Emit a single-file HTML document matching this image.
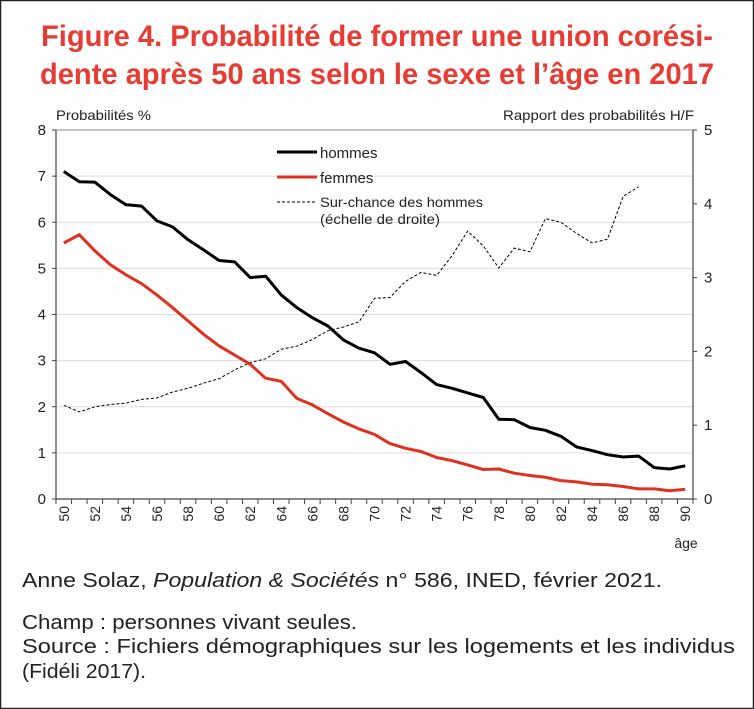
<!DOCTYPE html>
<html><head><meta charset="utf-8"><style>
html,body{margin:0;padding:0;background:#fff;}
svg{display:block;}
text{font-family:"Liberation Sans",sans-serif;}
</style></head><body>
<svg id="chart" width="754" height="709" viewBox="0 0 754 709">
<rect x="0.5" y="0.5" width="753" height="708" fill="#fff" stroke="#222" stroke-width="1.5"/>
<text x="377" y="46" text-anchor="middle" font-size="30" font-weight="bold" fill="#e63c33" textLength="672" lengthAdjust="spacingAndGlyphs">Figure 4. Probabilité de former une union corési-</text>
<text x="377" y="84" text-anchor="middle" font-size="30" font-weight="bold" fill="#e63c33" textLength="674" lengthAdjust="spacingAndGlyphs">dente après 50 ans selon le sexe et l’âge en 2017</text>
<text x="56" y="120" font-size="14" fill="#222" textLength="95" lengthAdjust="spacingAndGlyphs">Probabilités %</text>
<text x="694" y="120" text-anchor="end" font-size="14" fill="#222" textLength="191" lengthAdjust="spacingAndGlyphs">Rapport des probabilités H/F</text>
<g id="grid"></g>
<g id="axes"></g>
<g id="series"></g>
<g>
<line x1="277" y1="152" x2="317" y2="152" stroke="#000" stroke-width="3"/>
<text x="320" y="158" font-size="15" fill="#222">hommes</text>
<line x1="277" y1="177" x2="317" y2="177" stroke="#e0301e" stroke-width="3"/>
<text x="320" y="183" font-size="15" fill="#222">femmes</text>
<line x1="277" y1="202" x2="317" y2="202" stroke="#000" stroke-width="1" stroke-dasharray="3,2"/>
<text x="320" y="207" font-size="14" fill="#222" textLength="163" lengthAdjust="spacingAndGlyphs">Sur-chance des hommes</text>
<text x="320" y="224" font-size="14" fill="#222" textLength="120" lengthAdjust="spacingAndGlyphs">(échelle de droite)</text>
</g>
<text x="686" y="548" text-anchor="middle" font-size="14" fill="#222">âge</text>
<text x="22" y="587" font-size="20" fill="#222" textLength="640" lengthAdjust="spacingAndGlyphs">Anne Solaz, <tspan font-style="italic">Population &amp; Sociétés</tspan> n° 586, INED, février 2021.</text>
<text x="22" y="629" font-size="20" fill="#222" textLength="335" lengthAdjust="spacingAndGlyphs">Champ : personnes vivant seules.</text>
<text x="22" y="653" font-size="20" fill="#222" textLength="713" lengthAdjust="spacingAndGlyphs">Source : Fichiers démographiques sur les logements et les individus</text>
<text x="22" y="678" font-size="20" fill="#222" textLength="124" lengthAdjust="spacingAndGlyphs">(Fidéli 2017).</text>
</svg>
<script>
const ages = [50,51,52,53,54,55,56,57,58,59,60,61,62,63,64,65,66,67,68,69,70,71,72,73,74,75,76,77,78,79,80,81,82,83,84,85,86,87,88,89,90];
const hommes = [7.1,6.88,6.87,6.6,6.38,6.35,6.03,5.9,5.62,5.4,5.17,5.14,4.8,4.83,4.42,4.15,3.93,3.75,3.45,3.27,3.17,2.92,2.98,2.74,2.48,2.4,2.3,2.2,1.73,1.72,1.55,1.49,1.36,1.13,1.05,0.96,0.91,0.93,0.68,0.65,0.72];
const femmes = [5.55,5.73,5.38,5.08,4.86,4.67,4.42,4.15,3.86,3.57,3.32,3.12,2.92,2.62,2.55,2.18,2.04,1.85,1.67,1.52,1.4,1.2,1.1,1.03,0.9,0.83,0.74,0.64,0.65,0.56,0.51,0.47,0.4,0.37,0.32,0.31,0.27,0.22,0.22,0.18,0.21];
const ratio = [1.27,1.18,1.25,1.28,1.3,1.35,1.37,1.45,1.5,1.57,1.63,1.75,1.85,1.9,2.03,2.07,2.16,2.28,2.33,2.4,2.72,2.73,2.95,3.07,3.03,3.3,3.63,3.43,3.13,3.4,3.35,3.8,3.75,3.6,3.47,3.52,4.1,4.23];
const leftTicks = [0,1,2,3,4,5,6,7,8];
const rightTicks = [0,1,2,3,4,5];

const NS = "http://www.w3.org/2000/svg";
const X0 = 56, X1 = 693, Y0 = 499, Y1 = 130;
const step = (X1 - X0) / ages.length;
const xPos = i => X0 + step * (i + 0.5);
const yL = v => Y0 - (v / 8) * (Y0 - Y1);
const yR = v => Y0 - (v / 5) * (Y0 - Y1);
function mk(tag, attrs, parent) {
  const e = document.createElementNS(NS, tag);
  for (const k in attrs) e.setAttribute(k, attrs[k]);
  parent.appendChild(e);
  return e;
}
const grid = document.getElementById('grid');
const axes = document.getElementById('axes');
const series = document.getElementById('series');

leftTicks.forEach(v => {
  if (v > 0) {
    const g = mk('line', {x1: X0, x2: X1, y1: yL(v), y2: yL(v), stroke: '#dcdcdc', 'stroke-width': 1}, grid);
    
    
  }
  const t = mk('text', {x: X0 - 10, y: yL(v) + 5, 'text-anchor': 'end', 'font-size': 15, fill: '#222'}, axes);
  t.textContent = v;
  
  
  const tk = mk('line', {x1: X0 - 4, x2: X0, y1: yL(v), y2: yL(v), stroke: '#444'}, axes);
  
  
});
rightTicks.forEach(v => {
  const t = mk('text', {x: X1 + 11, y: yR(v) + 5, 'font-size': 15, fill: '#222'}, axes);
  t.textContent = v;
  
  
  const tk = mk('line', {x1: X1, x2: X1 + 4, y1: yR(v), y2: yR(v), stroke: '#444'}, axes);
  
  
});
const la = mk('line', {x1: X0, x2: X0, y1: Y1, y2: Y0, stroke: '#444', 'stroke-width': 1.2}, axes);


const ra = mk('line', {x1: X1, x2: X1, y1: Y1, y2: Y0, stroke: '#444', 'stroke-width': 1.2}, axes);


const ta = mk('line', {x1: X0, x2: X1, y1: Y1, y2: Y1, stroke: '#888', 'stroke-width': 1}, axes);


const xa = mk('line', {x1: X0, x2: X1, y1: Y0, y2: Y0, stroke: '#444', 'stroke-width': 1.2}, axes);


for (let i = 0; i <= ages.length; i++) {
  const x = X0 + step * i;
  const tk = mk('line', {x1: x, x2: x, y1: Y0, y2: Y0 + 5, stroke: '#444'}, axes);
  
  
}
ages.forEach((a, i) => {
  if (a % 2 !== 0) return;
  const x = xPos(i), y = 506;
  const t = mk('text', {x: x, y: y, 'text-anchor': 'end', 'font-size': 14, fill: '#222', transform: `rotate(-90 ${x} ${y}) translate(0 5)`}, axes);
  t.textContent = a;
  
  
});
function path(vals, yf) {
  return vals.map((v, i) => (i ? 'L' : 'M') + xPos(i).toFixed(1) + ' ' + yf(v).toFixed(1)).join(' ');
}
const pr = mk('path', {d: path(ratio, yR), fill: 'none', stroke: '#000', 'stroke-width': 1, 'stroke-dasharray': '3,2'}, series);


const pf = mk('path', {d: path(femmes, yL), fill: 'none', stroke: '#e0301e', 'stroke-width': 3, 'stroke-linejoin': 'round'}, series);


const ph = mk('path', {d: path(hommes, yL), fill: 'none', stroke: '#000', 'stroke-width': 3, 'stroke-linejoin': 'round'}, series);


</script>
</body></html>
